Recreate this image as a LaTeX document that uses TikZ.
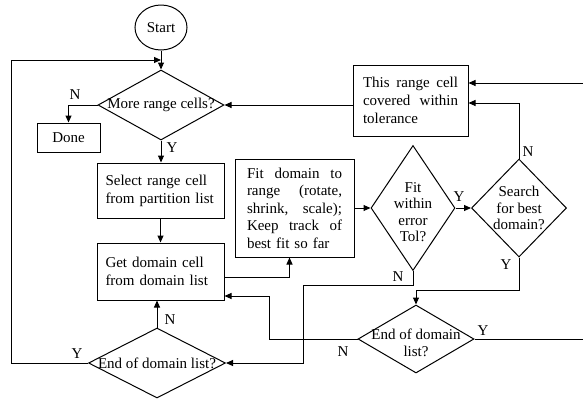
\documentclass[tikz,border=0pt]{standalone}
\usepackage{fontspec}
\setmainfont{Liberation Serif}
\usetikzlibrary{arrows.meta,shapes.geometric}
\newcommand{\jline}[1]{\leavevmode\hbox to 95pt{#1}}
\begin{document}
\begin{tikzpicture}[x=1pt,y=-1pt,
  font=\fontsize{15}{18}\selectfont,
  line width=1pt,
  >={Triangle[length=7pt,width=6pt]},
  box/.style={draw, rectangle, inner sep=0pt},
  dia/.style={draw, diamond, inner sep=0pt},
  dtext/.style={align=center, inner sep=0pt, font=\fontsize{15}{16.5}\selectfont},
  lbl/.style={inner sep=0pt}]
\useasboundingbox (0,0) rectangle (583,400);

% nodes
\node[draw, ellipse, minimum width=52pt, minimum height=45pt, inner sep=0pt] (start) at (161,27.5) {Start};

\node[dia, minimum width=126pt, minimum height=70pt] (d1) at (161,105) {};
\node[dtext] (d1t) at (d1) {More range cells?};

\node[box, minimum width=63pt, minimum height=29pt] (done) at (68.5,137.5) {Done};

\node[box, minimum width=127pt, minimum height=55pt, text width=110pt, align=left] (sel) at (160.5,190.5) {Select range cell\\from partition list};

\node[box, minimum width=127pt, minimum height=57pt, text width=110pt, align=left] (get) at (160.5,271.5) {Get domain cell\\from domain list};

\node[dia, minimum width=137pt, minimum height=70pt] (d4) at (157,363) {};
\node[dtext] (d4t) at (d4) {End of domain list?};

\node[box, minimum width=119pt, minimum height=98pt, text width=95pt, align=left, font=\fontsize{15}{17.5}\selectfont] (fit) at (294.5,208)
  {\jline{Fit\hfill domain\hfill to}\\\jline{range\hfill (rotate,}\\\jline{shrink,\hfill scale);}\\\jline{Keep\hfill track\hfill of}\\best fit so far};

\node[dia, minimum width=84pt, minimum height=125pt] (d2) at (413,208) {};
\node[dtext] (d2t) at ([yshift=-4pt]d2.center) {Fit\\within\\error\\Tol?};

\node[dia, minimum width=95pt, minimum height=98pt] (d3) at (519,208) {};
\node[dtext] (d3t) at (d3) {Search\\for best\\domain?};

\node[box, minimum width=115pt, minimum height=71pt, text width=95pt, align=left] (rng) at (410.5,100.5)
  {\jline{This\hfill range\hfill cell}\\\jline{covered\hfill within}\\tolerance};

\node[dia, minimum width=116pt, minimum height=68pt] (d5) at (416,339) {};
\node[dtext] (d5t) at ([yshift=-4pt]d5.center) {End of domain\\list?};

% labels
\node[lbl] (l1) at (75,95) {N};
\node[lbl] (l2) at (172,148) {Y};
\node[lbl] (l3) at (170,320) {N};
\node[lbl] (l4) at (77,354) {Y};
\node[lbl] (l5) at (459,197) {Y};
\node[lbl] (l6) at (398,277) {N};
\node[lbl] (l7) at (528,152) {N};
\node[lbl] (l8) at (506,265) {Y};
\node[lbl] (l9) at (483,331) {Y};
\node[lbl] (l10) at (343,352) {N};

% coordinates
\coordinate (j1) at (161,60);
\coordinate (lc) at (11,60);
\coordinate (rt) at (583,83);
\coordinate (rb) at (583,339);
\coordinate (b1) at (416,290);
\coordinate (b2) at (303,285);
\coordinate (b4) at (269,296);

% connectors
\draw[->] (start.south) -- (d1.north);
\draw[->] (d4.west) -| (lc) -- (j1);
\draw[->] (d1.west) -| (done.north);
\draw[->] (d1.south) -- (d1.south |- sel.north);
\draw[->] (sel.south) -- (get.north);
\draw[->] (d4.north) -- (d4.north |- get.south);
\draw[->] ([yshift=-5.5pt]get.east) -| ([xshift=-5pt]fit.south);
\draw[->] (fit.east) -- (d2.west);
\draw[->] (d2.east) -- (d3.west);
\draw[->] (d3.north) |- ([yshift=-2.5pt]rng.east);
\draw[->] (rt) -- (rng.east |- rt);
\draw[->] (rng.west |- d1.east) -- (d1.east);
\draw[->] (d3.south) |- (b1) -- (d5.north);
\draw[->] (d2.south) |- (b2) |- (d4.east);
\draw[->] (d5.west) -| (b4) -- (get.east |- b4);
\draw (d5.east) -- (rb);
\end{tikzpicture}
\end{document}
